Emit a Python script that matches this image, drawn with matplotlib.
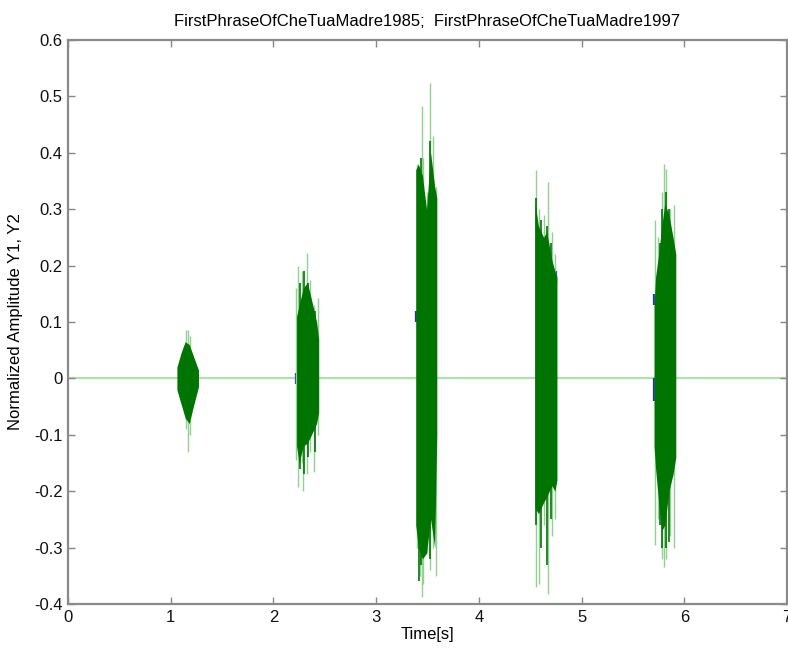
import matplotlib
matplotlib.use("Agg")
import matplotlib.pyplot as plt
import numpy as np

plt.rcParams['font.family'] = ['Liberation Sans', 'DejaVu Sans']

title = "FirstPhraseOfCheTuaMadre1985;  FirstPhraseOfCheTuaMadre1997"
xlabel = "Time[s]"
ylabel = "Normalized Amplitude Y1, Y2"
xticks = [0, 1, 2, 3, 4, 5, 6, 7]
yticks = [-0.4, -0.3, -0.2, -0.1, 0, 0.1, 0.2, 0.3, 0.4, 0.5, 0.6]

# Dense body envelopes of each burst (1997 recording, green)
burst_t = [
    [1.06, 1.10, 1.14, 1.18, 1.22, 1.27],
    [2.225, 2.25, 2.29, 2.33, 2.37, 2.42, 2.44],
    [3.385, 3.41, 3.45, 3.49, 3.53, 3.57, 3.59],
    [4.547, 4.58, 4.63, 4.66, 4.71, 4.74, 4.76],
    [5.705, 5.72, 5.75, 5.78, 5.81, 5.85, 5.89, 5.917],
]
burst_upper = [
    [0.02, 0.045, 0.065, 0.06, 0.04, 0.015],
    [0.11, 0.13, 0.16, 0.17, 0.14, 0.10, 0.07],
    [0.37, 0.38, 0.36, 0.30, 0.40, 0.34, 0.32],
    [0.31, 0.27, 0.25, 0.26, 0.21, 0.19, 0.18],
    [0.13, 0.18, 0.22, 0.27, 0.31, 0.29, 0.25, 0.22],
]
burst_lower = [
    [-0.02, -0.045, -0.07, -0.08, -0.05, -0.015],
    [-0.12, -0.15, -0.12, -0.115, -0.10, -0.08, -0.06],
    [-0.26, -0.30, -0.32, -0.31, -0.25, -0.30, -0.10],
    [-0.23, -0.24, -0.22, -0.21, -0.19, -0.20, -0.18],
    [-0.12, -0.16, -0.22, -0.27, -0.26, -0.20, -0.17, -0.14],
]

# Dark spikes on the edges of the dense bodies (time, top, bottom)
dark_t = [2.26, 2.30, 2.34, 2.40,
          3.42, 3.44, 3.52,
          4.555, 4.60, 4.66, 4.70,
          5.76, 5.78, 5.82, 5.85]
dark_top = [0.17, 0.19, 0.17, 0.12,
            0.36, 0.39, 0.42,
            0.32, 0.28, 0.27, 0.24,
            0.24, 0.30, 0.33, 0.30]
dark_bottom = [-0.16, -0.17, -0.14, -0.13,
               -0.36, -0.33, -0.32,
               -0.26, -0.30, -0.33, -0.25,
               -0.26, -0.30, -0.30, -0.29]

# Individual light spikes (time, top, bottom) of 1997 signal
spike_t = [1.149, 1.165, 1.172, 1.188,
           2.215, 2.243, 2.275, 2.29, 2.325, 2.356, 2.39, 2.43,
           3.40, 3.43, 3.447, 3.46, 3.49, 3.525, 3.555, 3.58,
           4.557, 4.59, 4.63, 4.67, 4.71, 4.74,
           5.716, 5.745, 5.78, 5.80, 5.825, 5.86, 5.895]
spike_top = [0.085, 0.06, 0.085, 0.075,
             0.16, 0.20, 0.19, 0.15, 0.222, 0.174, 0.13, 0.142,
             0.38, 0.36, 0.483, 0.39, 0.33, 0.523, 0.43, 0.34,
             0.37, 0.30, 0.29, 0.348, 0.26, 0.22,
             0.28, 0.25, 0.33, 0.38, 0.372, 0.30, 0.307]
spike_bottom = [-0.09, -0.13, -0.08, -0.10,
                -0.145, -0.193, -0.15, -0.199, -0.169, -0.13, -0.166, -0.10,
                -0.30, -0.35, -0.387, -0.364, -0.31, -0.34, -0.30, -0.35,
                -0.37, -0.365, -0.26, -0.382, -0.28, -0.25,
                -0.296, -0.25, -0.32, -0.335, -0.32, -0.28, -0.30]

# Visible fragments of the 1985 recording (blue): time, top, bottom
blue_t = [2.22, 3.385, 3.445, 3.55, 4.755, 5.70, 5.705]
blue_top = [0.01, 0.12, 0.35, 0.33, 0.19, 0.0, 0.15]
blue_bottom = [-0.01, 0.10, 0.30, 0.30, 0.17, -0.04, 0.13]

fig = plt.figure(figsize=(7.88, 6.52), dpi=100)
ax = fig.add_axes([0.0863, 0.0736, 0.9125, 0.8651])

dark = '#007400'
light = '#93d093'

ax.axhline(0, color='#b3ddb3', lw=1.6, zorder=1)

for t, top, bot in zip(blue_t, blue_top, blue_bottom):
    ax.vlines(t, bot, top, color='#2030d0', lw=1.6, zorder=2)

ax.vlines(spike_t, spike_bottom, spike_top, color=light, lw=1.0, zorder=2)
ax.vlines(dark_t, dark_bottom, dark_top, color=dark, lw=1.2, zorder=3)

for t, up, lo in zip(burst_t, burst_upper, burst_lower):
    ax.fill_between(t, lo, up, color=dark, lw=0, zorder=3)

ax.set_xlim(0, 7)
ax.set_ylim(-0.4, 0.6)
ax.set_xticks(xticks)
ax.set_yticks(yticks)
ax.set_xticklabels([str(v) for v in xticks])
ax.set_yticklabels(['%g' % v for v in yticks])
ax.tick_params(direction='in', length=5, width=1, color='#888888',
               labelsize=12, labelcolor='#111111', top=True, right=True, pad=4)
for s in ax.spines.values():
    s.set_color('#8a8a8a')
    s.set_linewidth(1.6)

ax.set_title(title, fontsize=12, pad=10)
ax.set_xlabel(xlabel, fontsize=12, labelpad=2)
ax.set_ylabel(ylabel, fontsize=12, labelpad=8)

fig.savefig('out.png', dpi=100)
